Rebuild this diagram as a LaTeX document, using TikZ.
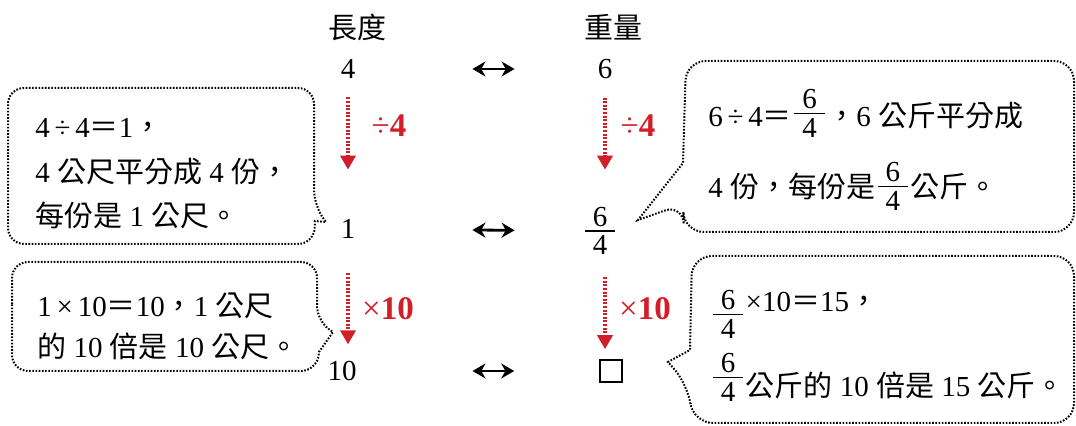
\documentclass[tikz,border=0pt]{standalone}
\usepackage{amsmath}
\usepackage{fontspec}
\setmainfont{Liberation Serif}
\newfontfamily\cjk{Noto Sans CJK TC}
\usetikzlibrary{arrows.meta}
\definecolor{opred}{RGB}{210,30,40}
\newcommand\zh[1]{{\cjk #1}}
\newcommand\fr[3][0pt]{\raisebox{#1}{$\genfrac{}{}{0.6pt}{1}%
  {\mbox{\hspace{4pt}#2\rule[-1.5pt]{0pt}{1pt}\hspace{4pt}}}%
  {\mbox{\hspace{4pt}#3\rule{0pt}{11pt}\hspace{4pt}}}$}}

\begin{document}
\begin{tikzpicture}[
    x=0.5pt, y=-0.5pt,
    every node/.style={inner sep=0pt, font=\fontsize{14.5}{17}\selectfont},
    txt/.style={anchor=base west},
    op/.style={text=opred, font=\fontsize{16.5}{18}\selectfont},
    swap/.style={line width=1.4pt, {Stealth[width=7.5pt,length=6.5pt]}-{Stealth[width=7.5pt,length=6.5pt]}},
    redarr/.style={draw=opred, line width=2.2pt, dash pattern=on 1pt off 0.8pt, -{Triangle[width=7.5pt,length=7pt]}},
    bubble/.style={line width=1pt, dash pattern=on 0.8pt off 0.8pt}
]
  \useasboundingbox (0,0) rectangle (1076,426);

  % headings
  \node (hlen) at (357,27) {\zh{長度}};
  \node (hwt)  at (613,27) {\zh{重量}};

  % values
  \node (v4)  at (348,69)  {4};
  \node (v6)  at (605,69)  {6};
  \node (v1)  at (348,229) {1};
  \node (vf)  at (600,231) {\fr{6}{4}};
  \node (v10) at (342,371) {10};
  \node[draw, line width=0.8pt, minimum size=11pt] (vq) at (611,371) {};

  % operations
  \node[op] (d1) at (389,126) {÷\textbf{4}};
  \node[op] (d2) at (638,126) {÷\textbf{4}};
  \node[op] (m1) at (388,309) {×\textbf{10}};
  \node[op] (m2) at (645,309) {×\textbf{10}};

  % arrows
  \draw[redarr, shorten <=9.2pt, shorten >=24.7pt] (v4.south) -- (v4.south |- v1.north);
  \draw[redarr, shorten <=9.2pt, shorten >=18.5pt] (v6.south) -- (v6.south |- vf.north);
  \draw[redarr, shorten <=17.2pt, shorten >=8.2pt] (v1.south) -- (v1.south |- v10.north);
  \draw[redarr, shorten <=11pt, shorten >=5pt] (v6.south |- vf.south) -- (v6.south |- vq.north);
  \draw[swap, shorten <=58.4pt, shorten >=41.4pt] (v4) -- (v6);
  \draw[swap, shorten <=58.4pt, shorten >=33.7pt] (v1) -- (vf);
  \draw[swap, shorten <=57.8pt, shorten >=42.5pt] (v10) -- (vq);

  % bubbles
  \draw[bubble] (8,170) [rounded corners=8pt] -- (8,88) -- (314,88) -- (314,206)
    [sharp corners] -- (326,222) -- (315,221) [rounded corners=8pt] -- (314,244) -- (8,244) -- cycle;
  \draw[bubble] (12,320) [rounded corners=8pt] -- (12,262) -- (317,262) -- (317,322)
    [sharp corners] -- (333,332) -- (319,352) [rounded corners=8pt] -- (317,371) -- (12,371) -- cycle;
  \draw[bubble] (880,61) [rounded corners=10pt] -- (1074,61) -- (1074,232) -- (684,232) -- (683,204)
    [sharp corners] -- (638,220) -- (683,163) [rounded corners=10pt] -- (686,61) -- cycle;
  \draw[bubble] (880,256) [rounded corners=10pt] -- (1074,256) -- (1074,423) -- (693,423) -- (688,385)
    [sharp corners] -- (668,362) -- (690,350) [rounded corners=10pt] -- (692,256) -- cycle;

  % bubble texts
  \node[txt] (b1a) at (35,138) {4\,÷\,4\zh{＝}1\zh{，}};
  \node[txt] (b1b) at (35,183) {4 \zh{公尺平分成} 4 \zh{份，}};
  \node[txt] (b1c) at (35,227) {\zh{每份是} 1 \zh{公尺。}};
  \node[txt] (b2a) at (37,317) {1\,×\,10\zh{＝}10\zh{，}1 \zh{公尺}};
  \node[txt] (b2b) at (37,358) {\zh{的} 10 \zh{倍是} 10 \zh{公尺。}};
  \node[txt] (b3a) at (708,127) {6\,÷\,4\zh{＝}\fr[3pt]{6}{4}\zh{，}6 \zh{公斤平分成}};
  \node[txt] (b3b) at (708,198) {4 \zh{份，每份是}\fr[2pt]{6}{4}\zh{公斤。}};
  \node[txt] (b4a) at (710,312) {\fr[-5pt]{6}{4}×10\zh{＝}15\zh{，}};
  \node[txt] (b4b) at (710,397) {\fr[6pt]{6}{4}\zh{公斤的} 10 \zh{倍是} 15 \zh{公斤。}};
\end{tikzpicture}
\end{document}
